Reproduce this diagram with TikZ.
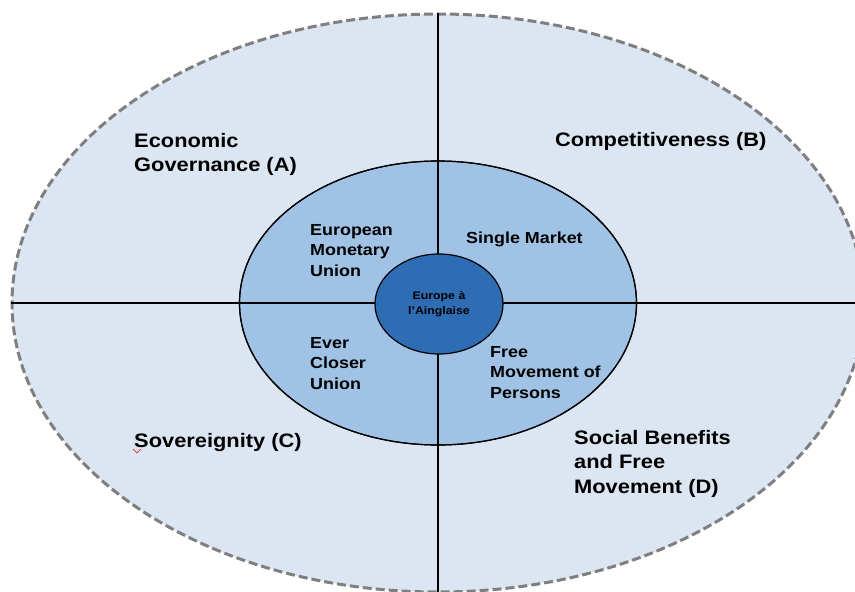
\documentclass[tikz,border=0pt]{standalone}
\usepackage{fontspec}
\setmainfont{Liberation Sans}[FakeStretch=1.12]
\usepackage{tikz}
\usetikzlibrary{shapes,positioning}
\definecolor{outerblue}{HTML}{DCE6F2}
\definecolor{ringblue}{HTML}{9FC2E5}
\definecolor{coreblue}{HTML}{2E6DB4}
\definecolor{dashgray}{HTML}{7F7F7F}

\begin{document}
\begin{tikzpicture}[x=1pt,y=-1pt,
  every node/.append style={inner sep=0pt}]
  \tikzstyle{ring} = [ellipse, draw=black, line width=1.2pt]
  \tikzstyle{theme} = [anchor=base west, align=left, font=\fontsize{19.5}{24.5}\selectfont\bfseries]
  \tikzstyle{pillar} = [anchor=base west, align=left, font=\fontsize{16}{20.5}\selectfont\bfseries]
  \useasboundingbox (0,0) rectangle (855,592);
  \node (outer) [ring, draw=dashgray, line width=3pt, dash pattern=on 9pt off 4pt,
    fill=outerblue, minimum width=852, minimum height=578] at (438,303) {};
  \node (middle) [ring, fill=ringblue, minimum width=397, minimum height=284] at (438,303) {};
  \draw[line width=1.2pt] (outer.north) -- (outer.south);
  \draw[line width=1.2pt] (outer.west) -- (outer.east);
  \node (middle2) [ring, minimum width=397, minimum height=284] at (438,303) {};
  \node (core) [ring, fill=coreblue, minimum width=128, minimum height=100,
    align=center, font=\fontsize{11}{15}\selectfont\bfseries] at (439,304) {Europe à\\l'Ainglaise};
  \node (A) [theme] at (134,171.5) {Economic\\Governance (A)};
  \node (B) [theme] at (555,146) {Competitiveness (B)};
  \node (C) [theme] at (134,447) {Sovereignity (C)};
  \node (D) [theme] at (574,493) {Social Benefits\\and Free\\Movement (D)};
  \node (emu) [pillar] at (310,276) {European\\Monetary\\Union};
  \node (sm) [pillar] at (466,243) {Single Market};
  \node (ecu) [pillar] at (310,389) {Ever\\Closer\\Union};
  \node (fmp) [pillar] at (490,398) {Free\\Movement of\\Persons};
  \draw[red, line width=0.6pt] (133,449) -- (137,453) -- (141,449);
\end{tikzpicture}
\end{document}
